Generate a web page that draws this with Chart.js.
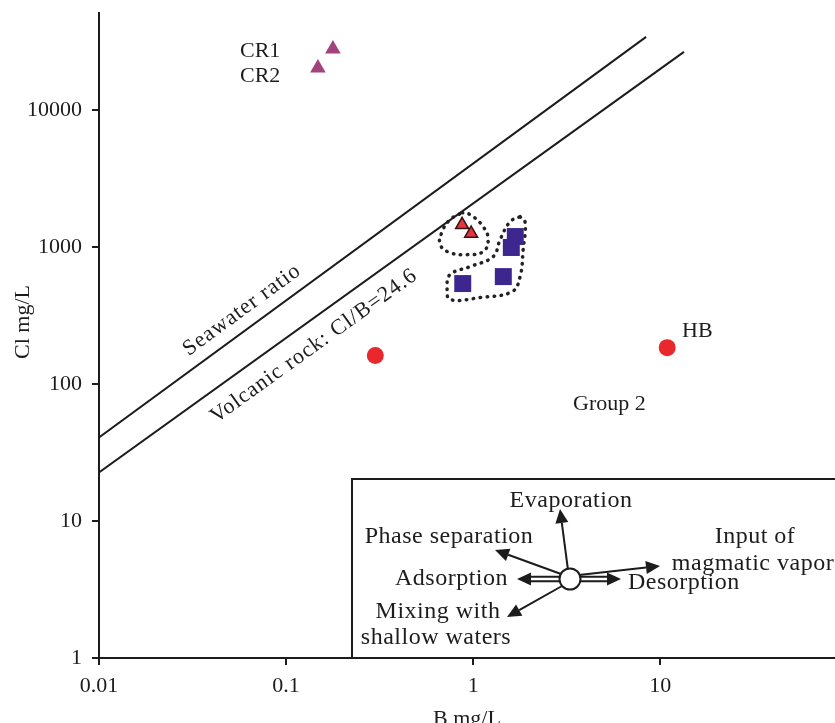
<!DOCTYPE html>
<html>
<head>
<meta charset="utf-8">
<script src="https://cdn.jsdelivr.net/npm/chart.js@4.4.0/dist/chart.umd.min.js"></script>
<style>
  html, body { margin: 0; padding: 0; background: #fff; }
  #wrap { width: 835px; height: 723px; }
</style>
</head>
<body>
<div id="wrap"><canvas id="myChart" width="835" height="723"></canvas></div>
<script>
// DATA (B mg/L, Cl mg/L)
const xTicks = [0.01, 0.1, 1, 10];
const yTicks = [1, 10, 100, 1000, 10000];

const crB = [0.178, 0.148];
const crCl = [27800, 20200];
const crNames = ["CR1", "CR2"];

const redTriB = [0.873, 0.976];
const redTriCl = [1450, 1250];

const squareB = [1.68, 1.60, 0.88, 1.45];
const squareCl = [1190, 990, 540, 607];

const circleB = [0.30, 10.9];
const circleCl = [161, 184];

const seawaterB = [0.01, 8.41];
const seawaterCl = [40.7, 34050];

const volcanicB = [0.01, 13.4];
const volcanicCl = [22.6, 26470];

// DOTTED OUTLINES AROUND THE TWO GROUPS
const loopTriB = [0.873, 0.964, 1.131, 1.203, 1.131, 0.929, 0.753, 0.667, 0.683, 0.753, 0.873];
const loopTriCl = [1777, 1718, 1405, 1129, 923, 878, 908, 1038, 1291, 1579, 1777];

const loopSqB = [1.783, 1.897, 1.851, 1.783, 1.617, 1.090, 0.753, 0.726, 0.753, 0.964, 1.279, 1.394, 1.577, 1.783];
const loopSqCl = [1661, 1502, 955, 607, 472, 427, 413, 505, 628, 718, 849, 1129, 1528, 1661];

const FONT = "'Liberation Serif', 'DejaVu Serif', serif";
const INK = "#1c1c1c";

const toPoints = (xs, ys) => xs.map((x, i) => ({ x: x, y: ys[i] }));

// ARROWS FOR THE PROCESS DIAGRAM
const arrow = (ctx, x1, y1, x2, y2, hollow) => {
  const ang = Math.atan2(y2 - y1, x2 - x1);
  const head = 14;
  const half = 6.5;
  const bx = x2 - head * Math.cos(ang);
  const by = y2 - head * Math.sin(ang);
  ctx.beginPath();
  if (hollow) {
    const ox = -Math.sin(ang) * 2.3;
    const oy = Math.cos(ang) * 2.3;
    ctx.moveTo(x1 + ox, y1 + oy);
    ctx.lineTo(bx + ox, by + oy);
    ctx.moveTo(x1 - ox, y1 - oy);
    ctx.lineTo(bx - ox, by - oy);
  } else {
    ctx.moveTo(x1, y1);
    ctx.lineTo(bx, by);
  }
  ctx.stroke();
  ctx.beginPath();
  ctx.moveTo(x2, y2);
  ctx.lineTo(bx - Math.sin(ang) * half, by + Math.cos(ang) * half);
  ctx.lineTo(bx + Math.sin(ang) * half, by - Math.cos(ang) * half);
  ctx.closePath();
  ctx.fill();
};

// PLUGIN FOR TEXTS, LINE LABELS AND THE INSET BOX
const annotations = {
  id: "annotations",
  afterDraw(chart) {
    const ctx = chart.ctx;
    const xs = chart.scales.x;
    const ys = chart.scales.y;
    const area = chart.chartArea;
    ctx.save();
    ctx.fillStyle = INK;
    ctx.strokeStyle = INK;
    ctx.font = "22px " + FONT;
    ctx.textBaseline = "middle";

    // y axis title
    ctx.save();
    ctx.translate(23, 322);
    ctx.rotate(-Math.PI / 2);
    ctx.textAlign = "center";
    ctx.fillText("Cl mg/L", 0, 0);
    ctx.restore();

    // point labels
    ctx.textAlign = "left";
    ctx.fillText(crNames[0], 240, 51);
    ctx.fillText(crNames[1], 240, 76);
    ctx.fillText("HB", 682, 331);
    ctx.fillText("Group 2", 573, 404);

    // rotated labels along the ratio lines
    const lineAngle = (bx, cl) =>
      Math.atan2(
        ys.getPixelForValue(cl[1]) - ys.getPixelForValue(cl[0]),
        xs.getPixelForValue(bx[1]) - xs.getPixelForValue(bx[0])
      );
    ctx.textAlign = "center";
    ctx.save();
    ctx.translate(242, 310);
    ctx.rotate(lineAngle(seawaterB, seawaterCl));
    ctx.letterSpacing = "1px";
    ctx.fillText("Seawater ratio", 0, 0);
    ctx.restore();
    ctx.save();
    ctx.translate(314, 346);
    ctx.rotate(lineAngle(volcanicB, volcanicCl));
    ctx.letterSpacing = "1px";
    ctx.fillText("Volcanic rock: Cl/B=24.6", 0, 0);
    ctx.restore();

    // inset box
    ctx.lineWidth = 2;
    ctx.beginPath();
    ctx.moveTo(352, area.bottom);
    ctx.lineTo(352, 479);
    ctx.lineTo(area.right + 2, 479);
    ctx.stroke();

    // process arrows
    const cx = 570, cy = 579;
    ctx.lineWidth = 2;
    arrow(ctx, 568, 570, 560, 509, false);
    arrow(ctx, 561, 574, 495, 550, false);
    arrow(ctx, 579, 575, 660, 566, false);
    arrow(ctx, 560, 579, 517, 579, true);
    arrow(ctx, 580, 579, 621, 579, true);
    arrow(ctx, 562, 586, 507, 617, false);
    ctx.beginPath();
    ctx.arc(cx, cy, 10.5, 0, Math.PI * 2);
    ctx.fillStyle = "#fff";
    ctx.fill();
    ctx.stroke();

    // process labels
    ctx.fillStyle = INK;
    ctx.font = "24px " + FONT;
    ctx.letterSpacing = "0.5px";
    ctx.textAlign = "center";
    ctx.fillText("Evaporation", 571, 501);
    ctx.fillText("Phase separation", 449, 537);
    ctx.fillText("Input of", 755, 537);
    ctx.fillText("magmatic vapor", 753, 564);
    ctx.fillText("Mixing with", 438, 612);
    ctx.fillText("shallow waters", 436, 638);
    ctx.textAlign = "right";
    ctx.fillText("Adsorption", 508, 579);
    ctx.textAlign = "left";
    ctx.fillText("Desorption", 628, 583);
    ctx.restore();
  },
};

const ctxChart = document.getElementById("myChart");

const myChart = new Chart(ctxChart, {
  type: "scatter",
  data: {
    datasets: [
      {
        label: "CR",
        data: toPoints(crB, crCl),
        pointStyle: "triangle",
        pointRadius: 9,
        backgroundColor: "#a3437c",
        borderColor: "#a3437c",
        borderWidth: 0,
      },
      {
        label: "Group 1 triangles",
        data: toPoints(redTriB, redTriCl),
        pointStyle: "triangle",
        pointRadius: 7.5,
        backgroundColor: "#e6353c",
        borderColor: "#3a1414",
        borderWidth: 1.5,
      },
      {
        label: "Group 1 squares",
        data: toPoints(squareB, squareCl),
        pointStyle: "rect",
        pointRadius: 12,
        backgroundColor: "#3d278f",
        borderColor: "#3d278f",
        borderWidth: 0,
      },
      {
        label: "Circles",
        data: toPoints(circleB, circleCl),
        pointStyle: "circle",
        pointRadius: 8.5,
        backgroundColor: "#e8282c",
        borderColor: "#e8282c",
        borderWidth: 0,
      },
      {
        label: "Seawater ratio",
        data: toPoints(seawaterB, seawaterCl),
        showLine: true,
        pointRadius: 0,
        borderColor: INK,
        borderWidth: 2,
      },
      {
        label: "Volcanic rock",
        data: toPoints(volcanicB, volcanicCl),
        showLine: true,
        pointRadius: 0,
        borderColor: INK,
        borderWidth: 2,
      },
      {
        label: "Outline triangles",
        data: toPoints(loopTriB, loopTriCl),
        showLine: true,
        pointRadius: 0,
        borderColor: "#222",
        borderWidth: 3.5,
        borderCapStyle: "round",
        borderDash: [0.5, 6.5],
        tension: 0.45,
      },
      {
        label: "Outline squares",
        data: toPoints(loopSqB, loopSqCl),
        showLine: true,
        pointRadius: 0,
        borderColor: "#222",
        borderWidth: 3.5,
        borderCapStyle: "round",
        borderDash: [0.5, 6.5],
        tension: 0.4,
      },
    ],
  },
  options: {
    responsive: false,
    animation: false,
    devicePixelRatio: 1,
    layout: { autoPadding: false, padding: { top: 13, left: 0, right: 0, bottom: 0 } },
    plugins: {
      legend: { display: false },
      tooltip: { enabled: false },
    },
    scales: {
      x: {
        type: "logarithmic",
        min: 0.01,
        max: 86,
        afterBuildTicks: (s) => {
          s.ticks = xTicks.map((v) => ({ value: v }));
        },
        afterFit: (s) => {
          s.height = 65;
          s.paddingLeft = 0;
          s.paddingRight = 0;
        },
        ticks: {
          callback: (v) => String(v),
          font: { family: FONT, size: 22 },
          color: INK,
          padding: 8,
          maxRotation: 0,
          autoSkip: false,
        },
        grid: {
          display: true,
          drawOnChartArea: false,
          drawTicks: true,
          tickLength: 7,
          color: INK,
          lineWidth: 2,
        },
        border: { display: true, color: INK, width: 2 },
        title: {
          display: true,
          text: "B mg/L",
          color: INK,
          font: { family: FONT, size: 22, lineHeight: 1 },
          padding: { top: 0, bottom: -7 },
        },
      },
      y: {
        type: "logarithmic",
        min: 1,
        max: 50900,
        afterBuildTicks: (s) => {
          s.ticks = yTicks.map((v) => ({ value: v }));
        },
        afterFit: (s) => {
          s.width = 99;
          s.paddingTop = 0;
          s.paddingBottom = 0;
        },
        ticks: {
          callback: (v) => String(v),
          font: { family: FONT, size: 22 },
          color: INK,
          padding: 10,
          autoSkip: false,
        },
        grid: {
          display: true,
          drawOnChartArea: false,
          drawTicks: true,
          tickLength: 7,
          color: INK,
          lineWidth: 2,
        },
        border: { display: true, color: INK, width: 2 },
        title: { display: false },
      },
    },
  },
  plugins: [annotations],
});
</script>
</body>
</html>
